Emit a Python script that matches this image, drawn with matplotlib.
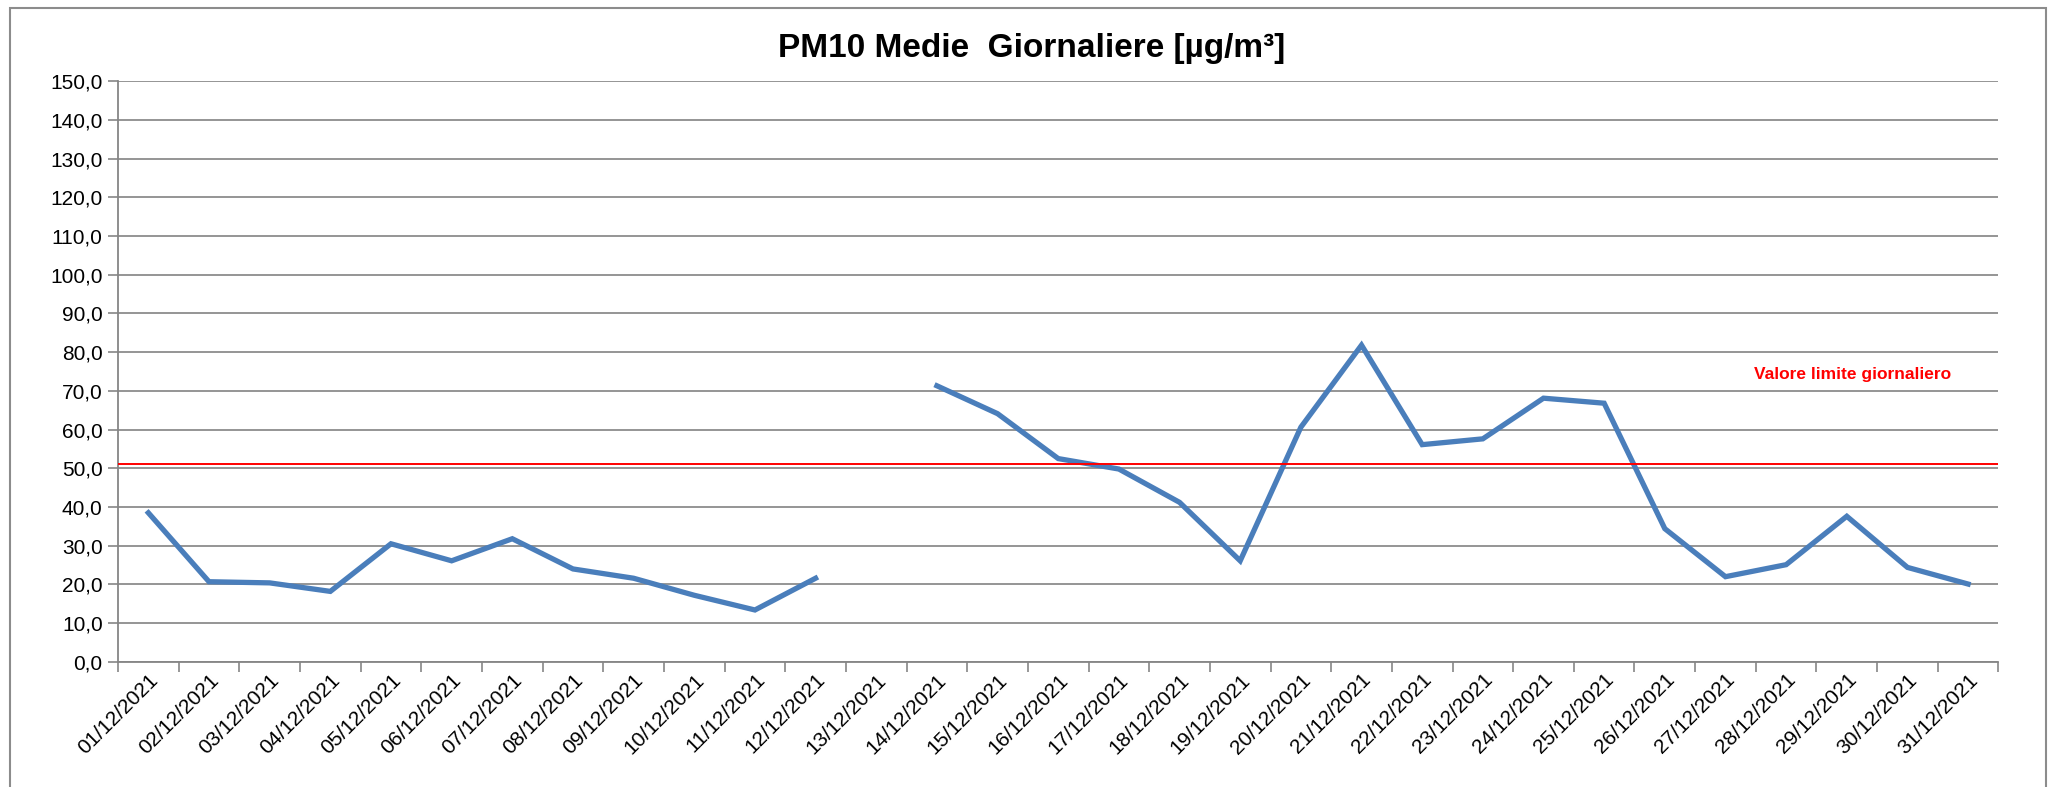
import matplotlib.pyplot as plt
import numpy as np
from matplotlib.patches import Rectangle

plt.rcParams['font.family'] = ['Liberation Sans Narrow', 'Liberation Sans', 'DejaVu Sans']

# date giornaliere dicembre 2021
giorni = ['%02d/12/2021' % d for d in range(1, 32)]

# medie giornaliere PM10 (13/12 mancante)
pm10 = [38.5, 20.7, 20.4, 18.2, 30.5, 26.1, 31.8, 24.0, 21.6, 17.2, 13.4, 21.6,
        np.nan, 71.3, 64.1, 52.5, 49.8, 41.2, 26.1, 60.6, 81.8, 56.1, 57.6, 68.1,
        66.8, 34.4, 22.0, 25.1, 37.6, 24.4, 20.1]

limite = 51.0
etichetta_limite = 'Valore limite giornaliero'
titolo = 'PM10 Medie  Giornaliere [µg/m³]'

fig = plt.figure(figsize=(20.56, 7.87), dpi=100)
ax = fig.add_axes([0.0574, 0.159, 0.9146, 0.738])

x = np.arange(len(giorni))
ax.plot(x, pm10, color='#4a7ebb', lw=3.8, solid_joinstyle='miter', zorder=3)
ax.axhline(limite, color='#ff0000', lw=1.4, zorder=4)
ax.text(28.1, 74.2, etichetta_limite, color='#ff0000', fontsize=12.5,
        fontweight='bold', ha='center', va='center')

ax.set_xlim(-0.5, len(giorni) - 0.5)
ax.set_ylim(0, 150)
ax.set_yticks(np.arange(0, 151, 10))
ax.set_yticklabels(['%d,0' % v for v in range(0, 151, 10)], fontsize=15)
ax.set_xticks(x)
ax.set_xticklabels(giorni, rotation=45, ha='right', rotation_mode='anchor', fontsize=15)
ax.set_xticks(np.arange(-0.5, len(giorni)), minor=True)
ax.tick_params(axis='x', which='major', length=0, pad=6)
ax.tick_params(axis='x', which='minor', length=7, color='#868686', width=1.2)
ax.tick_params(axis='y', length=7, color='#868686', width=1.2, pad=4)

ax.grid(axis='y', color='#8c8c8c', lw=1.3)
ax.set_axisbelow(True)
for s in ['top', 'right']:
    ax.spines[s].set_visible(False)
for s in ['left', 'bottom']:
    ax.spines[s].set_color('#868686')
    ax.spines[s].set_linewidth(1.3)

fig.text(0.502, 0.938, titolo, fontsize=24, fontweight='bold', ha='center', va='center')

# cornice del grafico
fig.patches.append(Rectangle((0.005, -0.05), 0.99, 1.04, transform=fig.transFigure,
                             fill=False, edgecolor='#8c8c8c', lw=1.5))

fig.savefig('out.png', dpi=100)
